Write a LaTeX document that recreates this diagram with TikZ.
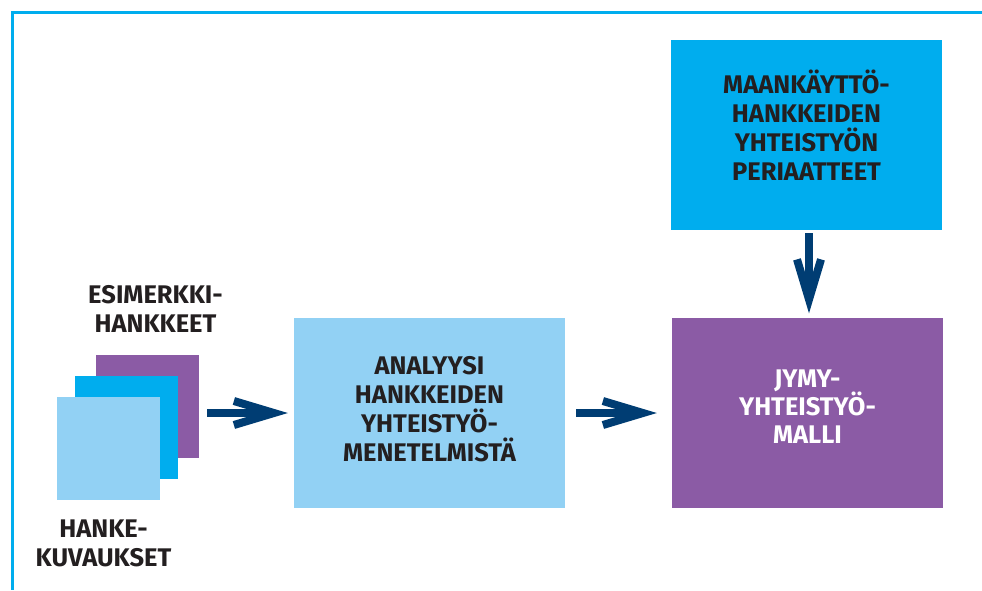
\documentclass[tikz,border=0pt]{standalone}
\usepackage{fontspec}
\setmainfont{Fira Sans}
\usetikzlibrary{arrows.meta}

\definecolor{jPurple}{HTML}{8B5BA5}
\definecolor{jCyan}{HTML}{00ADEE}
\definecolor{jLight}{HTML}{92D1F4}
\definecolor{jNavy}{HTML}{003D73}
\definecolor{jText}{HTML}{231F20}

\begin{document}
\begin{tikzpicture}[x=1pt,y=-1pt,
  block/.style={rectangle, draw=none, inner sep=0pt, minimum width=271pt, minimum height=190pt},
  sheet/.style={rectangle, draw=none, inner sep=0pt, minimum size=103pt},
  caption/.style={anchor=base, align=center, inner sep=0pt, text=jText,
    font=\fontsize{25.5}{29}\selectfont\bfseries},
  flow/.style={draw=jNavy, line width=8pt,
    -{Straight Barb[length=40pt, width=24pt, line cap=butt, line join=miter]}},
  frame/.style={draw=jCyan, line width=3pt}
]
\useasboundingbox (0,0) rectangle (982,590);

% frame along the top and left edges
\draw[frame] (982,12.5) -- (12.5,12.5) -- (12.5,590);

% main blocks
\node[block, fill=jCyan]   (prin) at (806.5,135)   {};
\node[block, fill=jLight]  (ana)  at (429.5,413)   {};
\node[block, fill=jPurple] (jymy) at (807.5,412.5) {};

% stacked sheets of project descriptions
\node[sheet, fill=jPurple] (sheetA) at (147.5,406.5) {};
\node[sheet, fill=jCyan]   (sheetB) at (126.5,427.5) {};
\node[sheet, fill=jLight]  (sheetC) at (108.5,448.5) {};

% texts (placed by the baseline of their last line)
\node[caption] (prinT) at (806.5,180) {MAANKÄYTTÖ-\\HANKKEIDEN\\YHTEISTYÖN\\PERIAATTEET};
\node[caption] (anaT)  at (429.5,461) {ANALYYSI\\HANKKEIDEN\\YHTEISTYÖ-\\MENETELMISTÄ};
\node[caption, text=white, font=\fontsize{25.5}{28}\selectfont\bfseries] (jymyT) at (807.5,443) {JYMY-\\YHTEISTYÖ-\\MALLI};
\node[caption] (esimT)  at (155.5,332) {ESIMERKKI-\\HANKKEET};
\node[caption] (hankeT) at (103.5,566) {HANKE-\\KUVAUKSET};

% connectors
\draw[flow, shorten <=8pt, shorten >=6pt] (sheetA.east |- ana.west) -- (ana.west);
\draw[flow, shorten <=11pt, shorten >=15pt] (ana.east) -- (ana.east -| jymy.west);
\draw[flow, shorten <=3pt, shorten >=4pt] ([xshift=2.5pt]prin.south) -- ([xshift=2.5pt]prin.south |- jymy.north);
\end{tikzpicture}
\end{document}
